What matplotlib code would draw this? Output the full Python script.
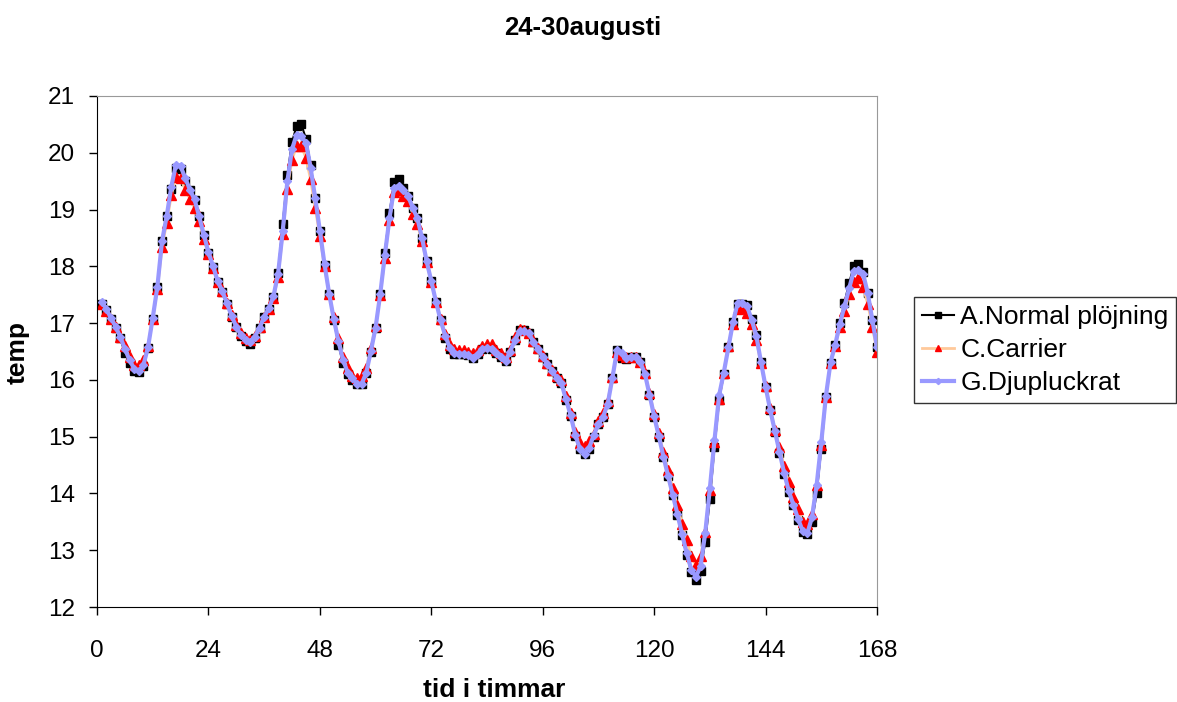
import numpy as np
import matplotlib.pyplot as plt

plt.rcParams['font.family'] = ['Liberation Sans', 'DejaVu Sans']

# timmar 1..168
hours = list(range(1, 169))

# A.Normal plöjning
temp_a = [17.34, 17.23, 17.07, 16.92, 16.73, 16.48, 16.30, 16.16, 16.14, 16.24,
          16.56, 17.07, 17.64, 18.44, 18.88, 19.37, 19.74, 19.72, 19.51, 19.35,
          19.17, 18.88, 18.55, 18.24, 17.99, 17.73, 17.55, 17.34, 17.11, 16.93,
          16.78, 16.69, 16.64, 16.74, 16.91, 17.10, 17.25, 17.46, 17.88, 18.74,
          19.60, 20.19, 20.47, 20.50, 20.25, 19.79, 19.20, 18.63, 18.03, 17.51,
          17.06, 16.62, 16.29, 16.10, 16.00, 15.92, 15.92, 16.12, 16.50, 16.91,
          17.51, 18.24, 18.94, 19.48, 19.53, 19.38, 19.24, 19.03, 18.85, 18.50,
          18.09, 17.74, 17.38, 17.05, 16.74, 16.54, 16.46, 16.46, 16.45, 16.43,
          16.38, 16.45, 16.54, 16.57, 16.55, 16.48, 16.41, 16.33, 16.50, 16.70,
          16.87, 16.87, 16.82, 16.67, 16.54, 16.40, 16.28, 16.16, 16.04, 15.94,
          15.65, 15.37, 15.02, 14.78, 14.69, 14.79, 15.00, 15.22, 15.34, 15.57,
          16.03, 16.52, 16.39, 16.37, 16.40, 16.41, 16.31, 16.11, 15.74, 15.35,
          15.00, 14.64, 14.30, 13.97, 13.62, 13.26, 12.92, 12.62, 12.47, 12.64,
          13.15, 13.90, 14.82, 15.64, 16.11, 16.58, 17.02, 17.33, 17.34, 17.32,
          17.08, 16.79, 16.32, 15.88, 15.47, 15.08, 14.72, 14.35, 14.03, 13.79,
          13.53, 13.32, 13.28, 13.50, 14.01, 14.79, 15.70, 16.30, 16.61, 17.00,
          17.36, 17.71, 18.00, 18.04, 17.90, 17.53, 17.05, 16.58]

# C.Carrier
temp_c = [17.33, 17.22, 17.08, 16.94, 16.76, 16.59, 16.41, 16.27, 16.26, 16.35,
          16.60, 17.08, 17.60, 18.34, 18.76, 19.25, 19.57, 19.55, 19.35, 19.19,
          19.03, 18.79, 18.48, 18.21, 17.97, 17.73, 17.56, 17.36, 17.14, 16.96,
          16.82, 16.74, 16.70, 16.78, 16.93, 17.11, 17.25, 17.44, 17.82, 18.57,
          19.37, 19.88, 20.12, 20.12, 19.91, 19.53, 19.03, 18.53, 18.00, 17.52,
          17.10, 16.74, 16.41, 16.21, 16.06, 16.04, 16.06, 16.21, 16.56, 16.95,
          17.49, 18.15, 18.82, 19.31, 19.35, 19.24, 19.15, 18.93, 18.74, 18.44,
          18.07, 17.73, 17.38, 17.07, 16.81, 16.61, 16.55, 16.53, 16.53, 16.50,
          16.47, 16.53, 16.60, 16.64, 16.63, 16.53, 16.47, 16.41, 16.53, 16.76,
          16.89, 16.87, 16.83, 16.69, 16.56, 16.42, 16.30, 16.18, 16.07, 15.99,
          15.71, 15.42, 15.09, 14.88, 14.84, 14.92, 15.05, 15.28, 15.41, 15.62,
          16.05, 16.50, 16.44, 16.40, 16.41, 16.40, 16.32, 16.13, 15.77, 15.40,
          15.06, 14.73, 14.41, 14.09, 13.79, 13.47, 13.18, 12.89, 12.74, 12.89,
          13.32, 14.06, 14.90, 15.67, 16.13, 16.60, 16.98, 17.25, 17.26, 17.18,
          16.98, 16.70, 16.29, 15.89, 15.50, 15.12, 14.82, 14.48, 14.20, 13.94,
          13.72, 13.50, 13.47, 13.64, 14.15, 14.85, 15.70, 16.30, 16.60, 16.93,
          17.22, 17.51, 17.73, 17.79, 17.64, 17.34, 16.94, 16.50]

# G.Djupluckrat
temp_g = [17.38, 17.25, 17.09, 16.94, 16.76, 16.55, 16.35, 16.20, 16.16, 16.26,
          16.58, 17.09, 17.64, 18.44, 18.88, 19.40, 19.79, 19.76, 19.56, 19.35,
          19.18, 18.88, 18.56, 18.25, 18.00, 17.74, 17.56, 17.35, 17.12, 16.94,
          16.79, 16.71, 16.66, 16.76, 16.92, 17.11, 17.26, 17.47, 17.87, 18.62,
          19.50, 20.06, 20.32, 20.29, 20.18, 19.74, 19.20, 18.63, 18.04, 17.52,
          17.07, 16.68, 16.35, 16.13, 16.03, 15.93, 15.93, 16.13, 16.51, 16.92,
          17.51, 18.20, 18.85, 19.38, 19.42, 19.35, 19.24, 19.03, 18.85, 18.50,
          18.09, 17.74, 17.38, 17.05, 16.78, 16.56, 16.47, 16.46, 16.46, 16.43,
          16.39, 16.46, 16.54, 16.57, 16.55, 16.48, 16.41, 16.34, 16.50, 16.70,
          16.86, 16.86, 16.82, 16.67, 16.54, 16.40, 16.28, 16.16, 16.04, 15.95,
          15.66, 15.38, 15.03, 14.79, 14.70, 14.80, 15.03, 15.22, 15.35, 15.58,
          16.03, 16.52, 16.48, 16.38, 16.41, 16.41, 16.31, 16.11, 15.74, 15.36,
          15.01, 14.65, 14.31, 13.98, 13.64, 13.29, 12.95, 12.66, 12.53, 12.72,
          13.30, 14.09, 14.94, 15.73, 16.13, 16.58, 17.02, 17.36, 17.36, 17.30,
          17.06, 16.78, 16.32, 15.88, 15.47, 15.10, 14.73, 14.36, 14.04, 13.80,
          13.55, 13.34, 13.30, 13.58, 14.15, 14.90, 15.72, 16.31, 16.62, 16.99,
          17.30, 17.61, 17.92, 17.93, 17.87, 17.53, 17.05, 16.58]

fig = plt.figure(figsize=(11.77, 7.02), dpi=100)
ax = fig.add_axes([97/1177, 1 - 607/702, 780/1177, 511/702])

ax.plot(hours, temp_a, color='black', lw=1.5, marker='s', ms=5.5,
        mfc='black', mec='black', label='A.Normal plöjning')
ax.plot(hours, temp_c, color='#FFC99A', lw=2, marker='^', ms=6.5,
        mfc='red', mec='red', label='C.Carrier')
ax.plot(hours, temp_g, color='#9999FF', lw=3, marker='D', ms=4.5,
        mfc='#9999FF', mec='#9999FF', label='G.Djupluckrat')

ax.set_xlim(0, 168)
ax.set_ylim(12, 21)
ax.set_xticks(range(0, 169, 24))
ax.set_yticks(range(12, 22))
ax.tick_params(direction='out', length=6, width=1, labelsize=17.5, color='black')
ax.tick_params(axis='x', pad=18)
ax.tick_params(axis='y', pad=10)

ax.spines['top'].set_color('#999999')
ax.spines['right'].set_color('#999999')
ax.spines['left'].set_color('black')
ax.spines['bottom'].set_color('black')

fig.text(494/1177, 1 - 690/702, 'tid i timmar', fontsize=19, fontweight='bold',
         ha='center', va='center')
fig.text(18/1177, 1 - 352/702, 'temp', fontsize=19, fontweight='bold',
         ha='center', va='center', rotation=90)
fig.text(583/1177, 1 - 28/702, '24-30augusti', fontsize=18.5, fontweight='bold',
         ha='center', va='center')

leg = fig.legend(loc='upper left', bbox_to_anchor=(914/1177, 1 - 297/702),
                 fontsize=19, frameon=True, fancybox=False, edgecolor='black',
                 handlelength=1.2, handletextpad=0.25, borderpad=0.3,
                 labelspacing=0.35, borderaxespad=0, markerscale=0.7)
leg.get_frame().set_linewidth(1)

fig.savefig('out.png', dpi=100)
